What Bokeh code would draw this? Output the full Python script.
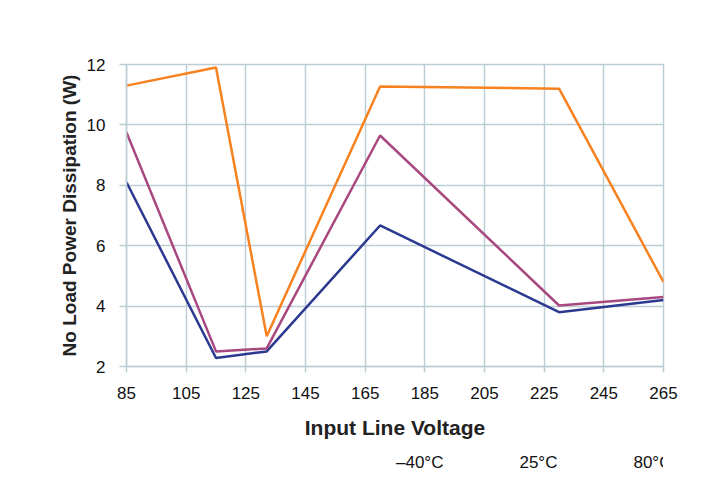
from bokeh.plotting import figure
from bokeh.layouts import column
from bokeh.models import Range1d, FixedTicker, Legend, LegendItem
from bokeh.embed import file_html
from bokeh.resources import INLINE

voltage = [85, 115, 132, 170, 230, 265]
minus40 = [8.1, 2.28, 2.5, 6.67, 3.8, 4.2]
plus25 = [9.75, 2.5, 2.6, 9.65, 4.02, 4.3]
plus80 = [11.3, 11.9, 3.0, 11.27, 11.2, 4.8]
series_names = ["\u201340\u00b0C", "25\u00b0C", "80\u00b0C"]
x_ticks = [85, 105, 125, 145, 165, 185, 205, 225, 245, 265]
y_ticks = [2, 4, 6, 8, 10, 12]

colors = ["#2b3990", "#a8487f", "#f7821f"]
grid_c = "#bccdd5"
font = "Liberation Sans"

p = figure(width=697, height=452, output_backend="svg", toolbar_location=None,
           x_range=Range1d(85, 265), y_range=Range1d(2, 12),
           min_border_left=126, min_border_right=34, min_border_top=64,
           min_border_bottom=86)
p.outline_line_color = grid_c
p.outline_line_width = 1.5

for ax in (p.xaxis[0], p.yaxis[0]):
    ax.axis_line_color = grid_c
    ax.axis_line_width = 1.5
    ax.major_tick_line_color = grid_c
    ax.major_tick_line_width = 1.5
    ax.major_tick_in = 0
    ax.minor_tick_line_color = None
    ax.major_label_text_font = font
    ax.major_label_text_font_size = "17px"
    ax.major_label_text_color = "#111111"
    ax.axis_label_text_font = font
    ax.axis_label_text_font_style = "bold"
    ax.axis_label_text_color = "#222222"

p.xaxis.axis_label_text_font_size = "21px"
p.yaxis.axis_label_text_font_size = "19px"
p.xaxis.ticker = FixedTicker(ticks=x_ticks)
p.yaxis.ticker = FixedTicker(ticks=y_ticks)
p.xaxis.major_tick_out = 6
p.yaxis.major_tick_out = 7
p.xaxis.major_label_standoff = 14
p.yaxis.major_label_standoff = 14
p.xaxis.axis_label = "Input Line Voltage"
p.yaxis.axis_label = "No Load Power Dissipation (W)"
p.xaxis.axis_label_standoff = 14
p.yaxis.axis_label_standoff = 4

p.xgrid.ticker = FixedTicker(ticks=x_ticks)
p.ygrid.ticker = FixedTicker(ticks=y_ticks)
p.grid.grid_line_color = grid_c
p.grid.grid_line_width = 1.5

for ys, c in zip([minus40, plus25, plus80], colors):
    p.line(voltage, ys, line_color=c, line_width=2.5)

# separate strip below the chart that holds the legend
lg = figure(width=697, height=39, output_backend="svg", toolbar_location=None,
            x_range=Range1d(0, 1), y_range=Range1d(0, 1),
            x_axis_type=None, y_axis_type=None, min_border=0)
lg.outline_line_color = None
lg.grid.visible = False

items = []
for name, c in zip(series_names, colors):
    r = lg.line(x=[], y=[], line_color=c, line_width=2.5)
    items.append(LegendItem(label=name, renderers=[r]))

legend = Legend(items=items, orientation="horizontal", location=(214, 18),
                glyph_width=48, glyph_height=20, label_standoff=8, spacing=20,
                padding=0, margin=0, border_line_color=None,
                background_fill_alpha=0,
                label_text_font=font, label_text_font_size="17px",
                label_text_color="#111111")
lg.add_layout(legend, "center")

layout = column(p, lg, spacing=0)

open("out.html", "w").write(file_html(layout, INLINE))
